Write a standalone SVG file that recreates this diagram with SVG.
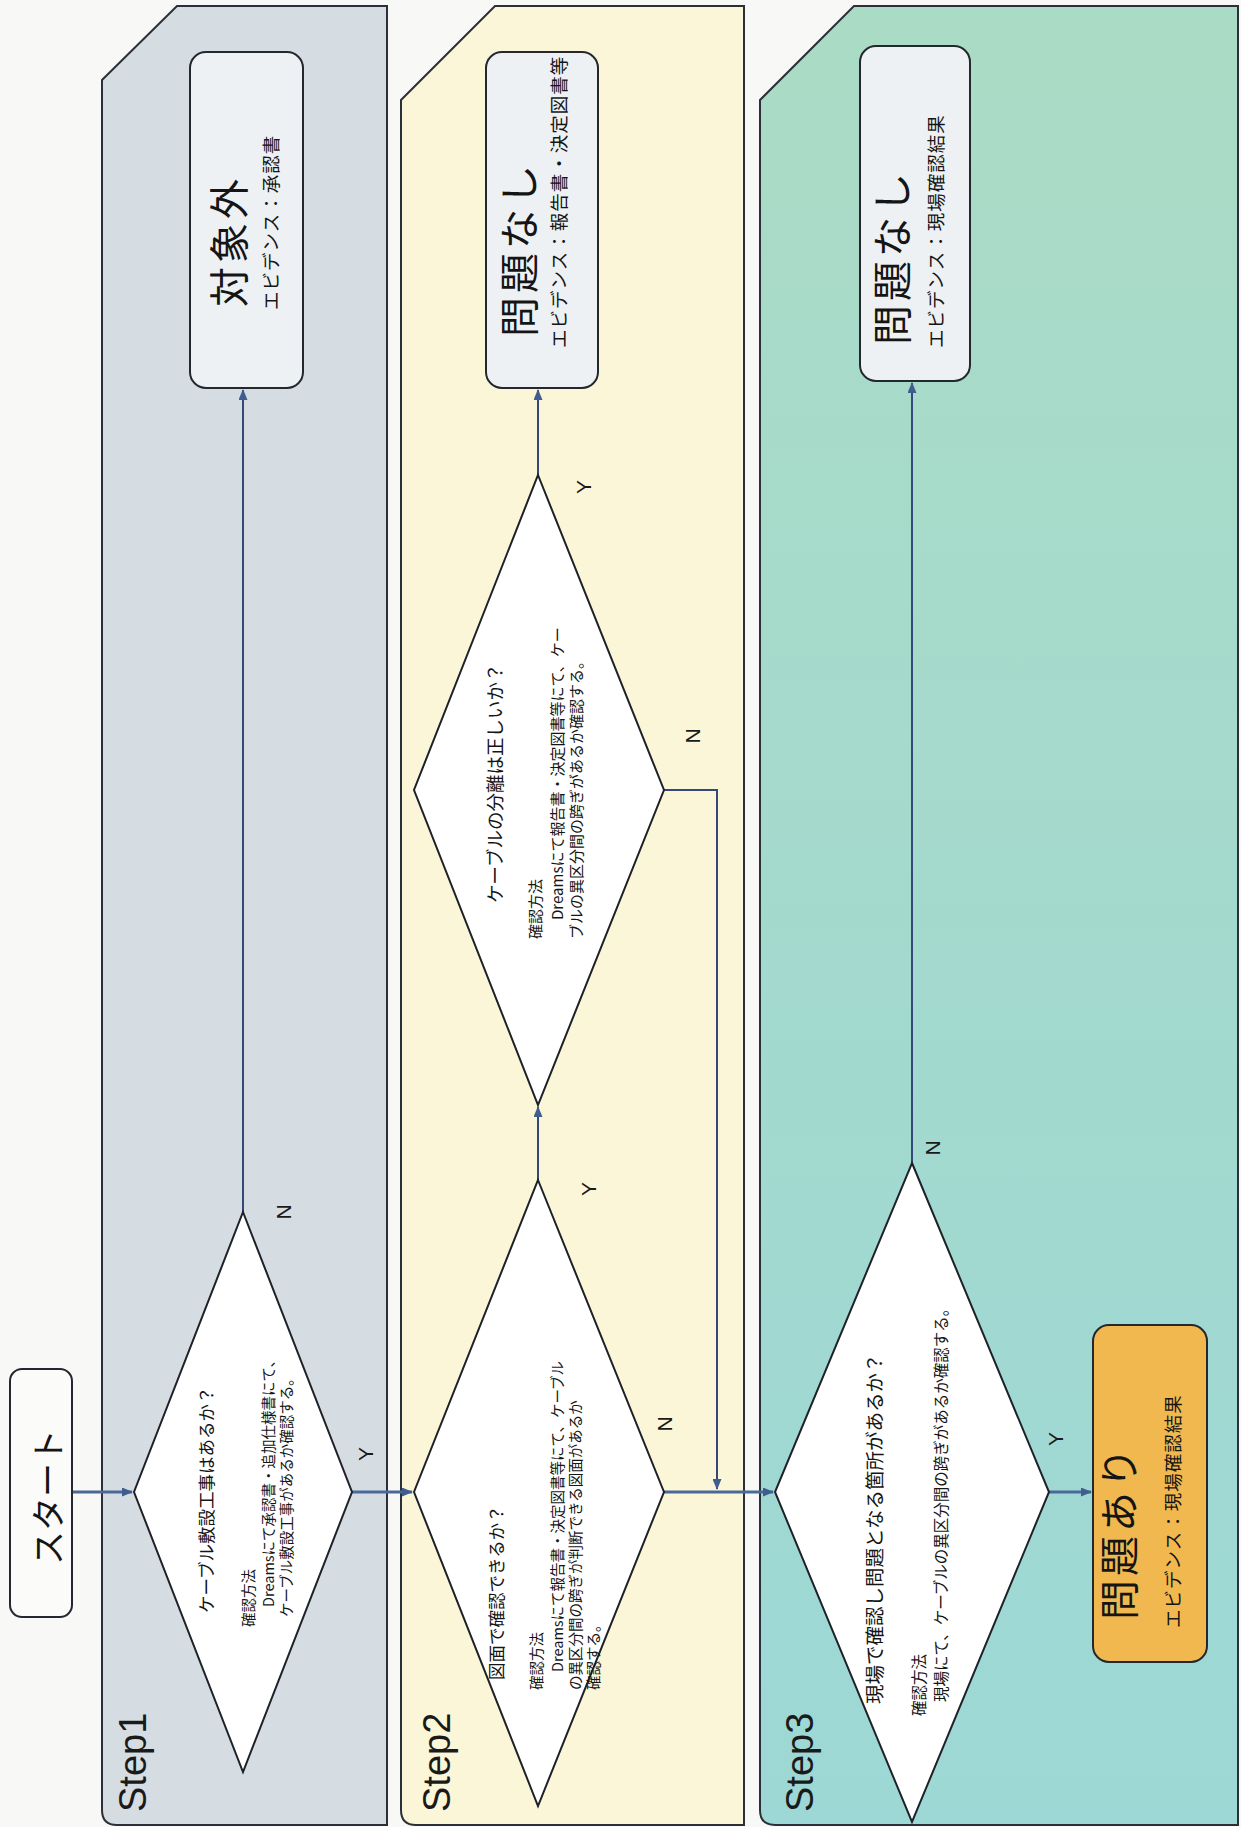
<svg xmlns="http://www.w3.org/2000/svg" width="1241" height="1827" viewBox="0 0 1241 1827">
<defs>
<linearGradient id="g3" x1="0" y1="0" x2="0" y2="1">
<stop offset="0" stop-color="#aadbc5"/>
<stop offset="1" stop-color="#9dd8d6"/>
</linearGradient>
<marker id="ah" markerUnits="userSpaceOnUse" markerWidth="11" markerHeight="9" refX="10" refY="4.5" orient="auto">
<path d="M0,0 L11,4.5 L0,9 Z" fill="#3f5d8f"/>
</marker>
<style>
.lane{stroke:#2b2f38;stroke-width:2}
.dia{fill:#ffffff;stroke:#1e2228;stroke-width:2}
.box{fill:#eef1f4;stroke:#23272e;stroke-width:2}
.jp{font-family:"Noto Sans CJK JP","Noto Sans CJK SC",sans-serif;fill:#151515}
.q{font-size:17.5px}
.d{font-size:14.5px}
.t{font-size:40px;letter-spacing:4px}
.s{font-size:18.5px;letter-spacing:1px}
.lat{font-family:"Liberation Sans",Arial,sans-serif;fill:#1a1a1a}
.lbl{font-size:21px}
.step{font-size:38px}
.thick{stroke:#4a6898;stroke-width:3;fill:none}
.thin{stroke:#34497a;stroke-width:2;fill:none}
</style>
</defs>
<rect x="0" y="0" width="1241" height="1827" fill="#f8f8f6"/>

<g id="lane-step1">
<path class="lane" fill="#d5dde3" d="M102,80 L177,6 L387,6 L387,1825 L117,1825 Q102,1825 102,1810 Z"/>
<text class="lat step" x="133" y="1812" transform="rotate(-90 133 1812)" dominant-baseline="central">Step1</text>
</g>
<g id="lane-step2">
<path class="lane" fill="#fcf6d8" d="M401,100 L495,6 L744,6 L744,1825 L416,1825 Q401,1825 401,1810 Z"/>
<text class="lat step" x="437" y="1812" transform="rotate(-90 437 1812)" dominant-baseline="central">Step2</text>
</g>
<g id="lane-step3">
<path class="lane" fill="url(#g3)" d="M760,100 L854,6 L1238,6 L1238,1825 L775,1825 Q760,1825 760,1810 Z"/>
<text class="lat step" x="800" y="1812" transform="rotate(-90 800 1812)" dominant-baseline="central">Step3</text>
</g>

<g id="connectors">
<path class="thick" d="M72,1492 H132" marker-end="url(#ah)"/>
<path class="thick" d="M352,1492 H412" marker-end="url(#ah)"/>
<path class="thick" d="M664,1492 H773" marker-end="url(#ah)"/>
<path class="thick" d="M1049,1492 H1091" marker-end="url(#ah)"/>
<path class="thin" d="M664,790 H717 V1489" marker-end="url(#ah)"/>
<path class="thin" d="M243,1212 V390" marker-end="url(#ah)"/>
<path class="thin" d="M538,1180 V1107" marker-end="url(#ah)"/>
<path class="thin" d="M538,475 V390" marker-end="url(#ah)"/>
<path class="thin" d="M912,1163 V383" marker-end="url(#ah)"/>
<g class="lat lbl" dominant-baseline="central">
<text x="365" y="1454" transform="rotate(-90 365 1454)" text-anchor="middle">Y</text>
<text x="283" y="1212" transform="rotate(-90 283 1212)" text-anchor="middle">N</text>
<text x="588" y="1189" transform="rotate(-90 588 1189)" text-anchor="middle">Y</text>
<text x="664" y="1424" transform="rotate(-90 664 1424)" text-anchor="middle">N</text>
<text x="583" y="487" transform="rotate(-90 583 487)" text-anchor="middle">Y</text>
<text x="692" y="736" transform="rotate(-90 692 736)" text-anchor="middle">N</text>
<text x="932" y="1148" transform="rotate(-90 932 1148)" text-anchor="middle">N</text>
<text x="1055" y="1439" transform="rotate(-90 1055 1439)" text-anchor="middle">Y</text>
</g>
</g>

<g id="start">
<rect x="10" y="1369" width="62" height="248" rx="12" fill="#fbfbfa" stroke="#23272e" stroke-width="2"/>
<text class="jp" font-size="34" x="46" y="1497" transform="rotate(-90 46 1497)" text-anchor="middle" dominant-baseline="central">スタート</text>
</g>

<g id="decision1">
<polygon class="dia" points="243,1212 352,1492 243,1772 134,1492"/>
<g class="jp" dominant-baseline="central">
<text class="q" x="205" y="1613" transform="rotate(-90 205 1613)">ケーブル敷設工事はあるか？</text>
<text class="d" x="247" y="1627" transform="rotate(-90 247 1627)">確認方法</text>
<text class="d" x="267" y="1607" transform="rotate(-90 267 1607)">Dreamsにて承認書・追加仕様書にて、</text>
<text class="d" x="285" y="1617" transform="rotate(-90 285 1617)">ケーブル敷設工事があるか確認する。</text>
</g>
</g>

<g id="out-taishougai">
<rect class="box" x="190" y="52" width="113" height="336" rx="16"/>
<text class="jp t" x="227" y="307" transform="rotate(-90 227 307)" dominant-baseline="central">対象外</text>
<text class="jp s" x="270" y="310" transform="rotate(-90 270 310)" dominant-baseline="central">エビデンス：承認書</text>
</g>

<g id="decision2">
<polygon class="dia" points="538,1180 664,1492 538,1806 414,1492"/>
<g class="jp" dominant-baseline="central">
<text class="q" x="495" y="1680" transform="rotate(-90 495 1680)">図面で確認できるか？</text>
<text class="d" x="535" y="1690" transform="rotate(-90 535 1690)">確認方法</text>
<text class="d" x="556" y="1672" transform="rotate(-90 556 1672)">Dreamsにて報告書・決定図書等にて、ケーブル</text>
<text class="d" x="574" y="1690" transform="rotate(-90 574 1690)">の異区分間の跨ぎが判断できる図面があるか</text>
<text class="d" x="592" y="1690" transform="rotate(-90 592 1690)">確認する。</text>
</g>
</g>

<g id="decision3">
<polygon class="dia" points="538,475 664,790 538,1105 414,790"/>
<g class="jp" dominant-baseline="central">
<text x="494" y="903" font-size="18.5" transform="rotate(-90 494 903)">ケーブルの分離は正しいか？</text>
<text x="534" y="939" font-size="15" transform="rotate(-90 534 939)">確認方法</text>
<text x="556" y="920" font-size="15" transform="rotate(-90 556 920)">Dreamsにて報告書・決定図書等にて、ケー</text>
<text x="575" y="939" font-size="15" transform="rotate(-90 575 939)">ブルの異区分間の跨ぎがあるか確認する。</text>
</g>
</g>

<g id="out-mondainashi2">
<rect class="box" x="486" y="52" width="112" height="336" rx="16"/>
<text class="jp t" x="517" y="337" transform="rotate(-90 517 337)" dominant-baseline="central">問題なし</text>
<text class="jp s" x="558" y="348" transform="rotate(-90 558 348)" dominant-baseline="central">エビデンス：報告書・決定図書等</text>
</g>

<g id="decision4">
<polygon class="dia" points="912,1163 1049,1492 912,1822 775,1492"/>
<g class="jp" dominant-baseline="central">
<text x="873" y="1704" font-size="19.5" transform="rotate(-90 873 1704)">現場で確認し問題となる箇所があるか？</text>
<text x="918" y="1716" font-size="15.5" transform="rotate(-90 918 1716)">確認方法</text>
<text x="940" y="1702" font-size="15.5" transform="rotate(-90 940 1702)">現場にて、ケーブルの異区分間の跨ぎがあるか確認する。</text>
</g>
</g>

<g id="out-mondainashi3">
<rect class="box" x="860" y="46" width="110" height="335" rx="16"/>
<text class="jp t" x="890" y="345" transform="rotate(-90 890 345)" dominant-baseline="central">問題なし</text>
<text class="jp s" x="935" y="348" transform="rotate(-90 935 348)" dominant-baseline="central">エビデンス：現場確認結果</text>
</g>

<g id="out-mondaiari">
<rect class="box" x="1093" y="1325" width="114" height="337" rx="16" style="fill:#f2b850"/>
<text class="jp t" x="1117" y="1620" transform="rotate(-90 1117 1620)" dominant-baseline="central">問題あり</text>
<text class="jp s" x="1172" y="1628" transform="rotate(-90 1172 1628)" dominant-baseline="central">エビデンス：現場確認結果</text>
</g>
</svg>
